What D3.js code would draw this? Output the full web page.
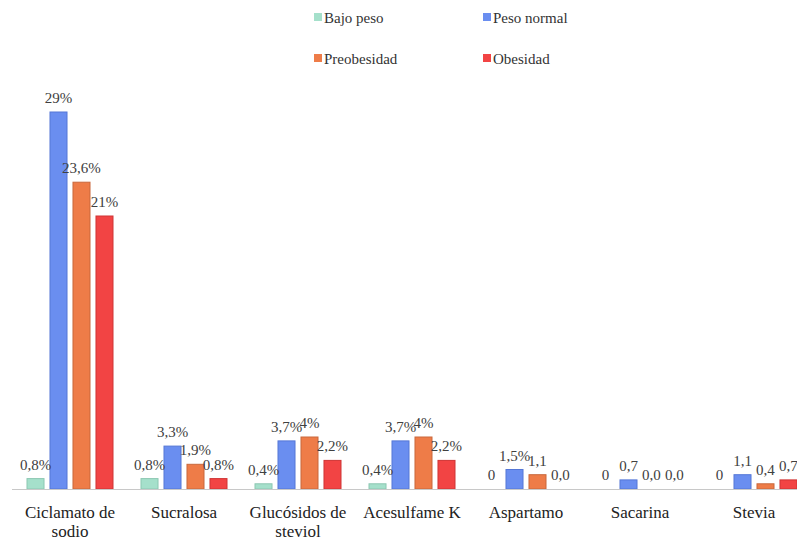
<!DOCTYPE html>
<html lang="es">
<head>
<meta charset="utf-8">
<script src="https://cdn.jsdelivr.net/npm/d3@7"></script>
<style>
  html, body { margin: 0; padding: 0; background: #ffffff; }
  svg { display: block; }
  svg text, svg tspan { font-family: "Liberation Serif", serif !important; }
</style>
</head>
<body>
<svg id="chart" width="797" height="541"></svg>
<script>
// Edulcorantes consumidos según estado nutricional (%)
const categories = ["Ciclamato de sodio", "Sucralosa", "Glucósidos de steviol", "Acesulfame K", "Aspartamo", "Sacarina", "Stevia"];
const seriesNames = ["Bajo peso", "Peso normal", "Preobesidad", "Obesidad"];
const seriesColors = ["#a5e0cb", "#6a8ef0", "#ee7c48", "#f24444"];
const seriesStrokes = ["#8cc7b2", "#5577d6", "#c9683c", "#cf3434"];

const bajoPeso    = [0.8, 0.8, 0.4, 0.4, 0, 0, 0];
const pesoNormal  = [29, 3.3, 3.7, 3.7, 1.5, 0.7, 1.1];
const preobesidad = [23.6, 1.9, 4, 4, 1.1, 0, 0.4];
const obesidad    = [21, 0.8, 2.2, 2.2, 0, 0, 0.7];

// Value labels as printed on the chart
const bajoPesoLabels    = ["0,8%", "0,8%", "0,4%", "0,4%", "0", "0", "0"];
const pesoNormalLabels  = ["29%", "3,3%", "3,7%", "3,7%", "1,5%", "0,7", "1,1"];
const preobesidadLabels = ["23,6%", "1,9%", "4%", "4%", "1,1", "0,0", "0,4"];
const obesidadLabels    = ["21%", "0,8%", "2,2%", "2,2%", "0,0", "0,0", "0,7"];

const seriesValues = [bajoPeso, pesoNormal, preobesidad, obesidad];
const seriesLabels = [bajoPesoLabels, pesoNormalLabels, preobesidadLabels, obesidadLabels];

const serifFont = "Liberation Serif";

function setFont(sel) {
  sel.attr("font-family", serifFont).style("font-family", serifFont, "important");
}

const rows = [];
categories.forEach((c, i) => {
  seriesNames.forEach((s, j) => {
    rows.push({ cat: c, series: s, si: j, value: seriesValues[j][i], label: seriesLabels[j][i] });
  });
});

const svg = d3.select("#chart");
const baseY = 489;

const x0 = d3.scaleBand().domain(categories).range([13, 811]).paddingInner(0).paddingOuter(0);
const x1 = d3.scaleBand().domain(seriesNames).range([14, 100]).paddingInner(0.26).paddingOuter(0);
const y = d3.scaleLinear().domain([0, 29]).range([baseY, 112]);

// Bars
svg.append("g").selectAll("rect")
  .data(rows)
  .join("rect")
  .attr("x", d => x0(d.cat) + x1(d.series))
  .attr("y", d => y(d.value))
  .attr("width", x1.bandwidth())
  .attr("height", d => baseY - y(d.value))
  .attr("fill", d => seriesColors[d.si])
  .attr("stroke", d => d.value > 0 ? seriesStrokes[d.si] : "none")
  .attr("stroke-width", 1);

// Category axis
const axis = svg.append("g")
  .attr("transform", `translate(0,${baseY})`)
  .call(d3.axisBottom(x0).tickSize(0).tickPadding(0));
axis.attr("font-size", 17);
setFont(axis);
axis.select(".domain").attr("stroke", "#c8c8c8").attr("stroke-width", 1.2)
  .attr("d", "M12,0.5H797");
axis.selectAll(".tick text").each(function(d) {
  const t = d3.select(this);
  t.text(null)
    .attr("font-size", 17)
    .attr("fill", "#222")
    .attr("y", 0).attr("dy", 0);
  setFont(t);
  let lines;
  if (d === "Ciclamato de sodio") lines = ["Ciclamato de", "sodio"];
  else if (d === "Glucósidos de steviol") lines = ["Glucósidos de", "steviol"];
  else lines = [d];
  lines.forEach((ln, k) => {
    t.append("tspan").attr("x", 0).attr("y", 29 + k * 19).text(ln);
  });
});

// Value labels
const valueLabels = svg.append("g").selectAll("text")
  .data(rows)
  .join("text")
  .attr("x", d => x0(d.cat) + x1(d.series) + x1.bandwidth() / 2)
  .attr("y", d => y(d.value) - 9)
  .attr("text-anchor", "middle")
  .attr("font-size", 15)
  .attr("fill", "#404040")
  .text(d => d.label);
setFont(valueLabels);

// Legend
const legendPos = [[314, 23], [483, 23], [314, 64], [483, 64]];
const legend = svg.append("g").selectAll("g")
  .data(seriesNames)
  .join("g")
  .attr("transform", (d, i) => `translate(${legendPos[i][0]},${legendPos[i][1]})`);
legend.append("rect")
  .attr("x", 0).attr("y", -10).attr("width", 8).attr("height", 8)
  .attr("fill", (d, i) => seriesColors[i]);
const legendText = legend.append("text")
  .attr("x", 10).attr("y", 0)
  .attr("font-size", 15)
  .attr("fill", "#333")
  .text(d => d);
setFont(legendText);
</script>
</body>
</html>
